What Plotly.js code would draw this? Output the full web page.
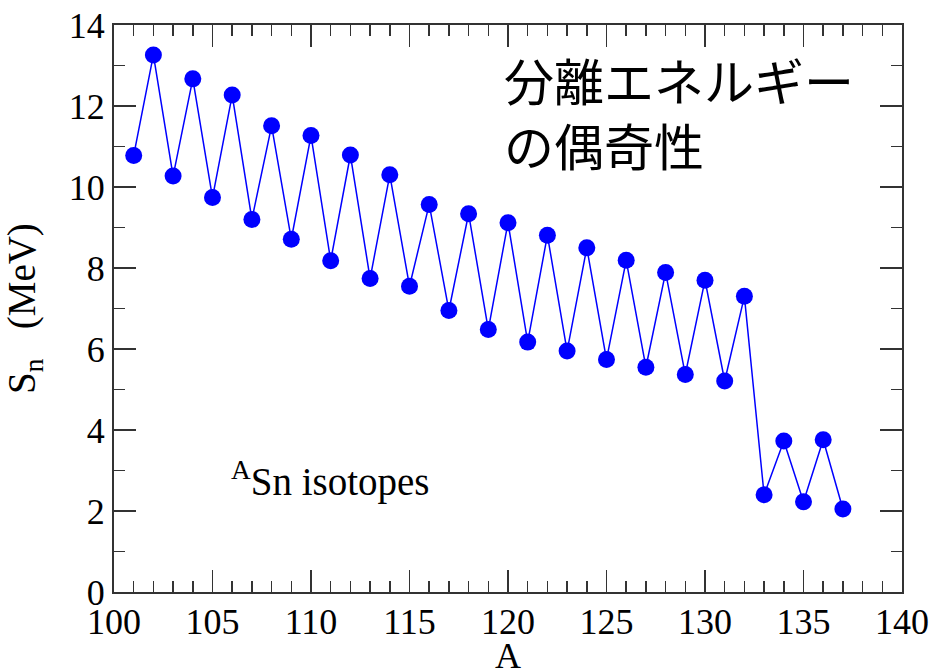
<!DOCTYPE html>
<html>
<head>
<meta charset="utf-8">
<script src="https://cdn.plot.ly/plotly-3.0.1.min.js"></script>
<style>
  html, body { margin: 0; padding: 0; background: #fff; }
  #chart { width: 932px; height: 668px; }
</style>
</head>
<body>
<div id="chart"></div>
<script>
// Mass number A of the tin isotopes
const massNumber = [101, 102, 103, 104, 105, 106, 107, 108, 109, 110,
                    111, 112, 113, 114, 115, 116, 117, 118, 119, 120,
                    121, 122, 123, 124, 125, 126, 127, 128, 129, 130,
                    131, 132, 133, 134, 135, 136, 137];

// One-neutron separation energy S_n (MeV)
const separationEnergy = [10.78, 13.26, 10.27, 12.67, 9.74, 12.27, 9.20, 11.51, 8.71, 11.27,
                          8.18, 10.79, 7.74, 10.30, 7.55, 9.57, 6.95, 9.34, 6.48, 9.12,
                          6.17, 8.81, 5.95, 8.50, 5.74, 8.19, 5.55, 7.89, 5.37, 7.70,
                          5.21, 7.30, 2.40, 3.73, 2.23, 3.76, 2.05];

const xTickValues = [100, 105, 110, 115, 120, 125, 130, 135, 140];
const yTickValues = [0, 2, 4, 6, 8, 10, 12, 14];

const serif = "'Liberation Serif', 'Times New Roman', serif";
const axisColor = '#333333';

const trace = {
  x: massNumber,
  y: separationEnergy,
  type: 'scatter',
  mode: 'lines+markers',
  line: { color: '#0000ff', width: 1.5 },
  marker: { color: '#0000ff', size: 17 },
  hoverinfo: 'x+y'
};

const axisCommon = {
  showgrid: false,
  zeroline: false,
  showline: true,
  linecolor: axisColor,
  linewidth: 2,
  mirror: 'ticks',
  ticks: 'inside',
  ticklen: 22,
  tickwidth: 1.5,
  tickcolor: axisColor,
  tickfont: { family: serif, size: 36, color: '#000' }
};

const layout = {
  width: 932,
  height: 668,
  margin: { l: 114, r: 30, t: 25, b: 76 },
  paper_bgcolor: '#ffffff',
  plot_bgcolor: '#ffffff',
  showlegend: false,
  xaxis: Object.assign({}, axisCommon, {
    range: [100, 140],
    tickmode: 'array',
    tickvals: xTickValues,
    ticktext: xTickValues.map(String),
    ticklabelstandoff: -3,
    minor: { dtick: 1, tick0: 100, ticks: 'inside', ticklen: 11, tickwidth: 1.5, tickcolor: axisColor }
  }),
  yaxis: Object.assign({}, axisCommon, {
    range: [0, 14],
    tickmode: 'array',
    tickvals: yTickValues,
    ticktext: yTickValues.map(String),
    minor: { dtick: 1, tick0: 0, ticks: 'inside', ticklen: 11, tickwidth: 1.5, tickcolor: axisColor },
    title: { text: 'S<sub>n</sub>   (MeV)', font: { family: serif, size: 39, color: '#000' } }
  }),
  annotations: [
    {
      // x-axis label, placed just under the tick numbers
      xref: 'paper', yref: 'paper', x: 0.5, y: 0,
      xanchor: 'center', yanchor: 'middle', yshift: -64,
      text: 'A',
      showarrow: false,
      font: { family: serif, size: 36, color: '#000' }
    },
    {
      xref: 'x', yref: 'y', x: 105.85, y: 2.78,
      xanchor: 'left', yanchor: 'middle',
      text: '<sup>A</sup>Sn isotopes',
      showarrow: false,
      font: { family: serif, size: 39, color: '#000' }
    },
    {
      xref: 'paper', yref: 'paper', x: 0.492, y: 0.971,
      xanchor: 'left', yanchor: 'top',
      align: 'left',
      text: '分離エネルギー<br>の偶奇性',
      showarrow: false,
      font: { family: "'Noto Sans CJK JP', 'Noto Sans', sans-serif", size: 50, color: '#000' }
    }
  ]
};

Plotly.newPlot('chart', [trace], layout, { displayModeBar: false, staticPlot: true });
</script>
</body>
</html>
